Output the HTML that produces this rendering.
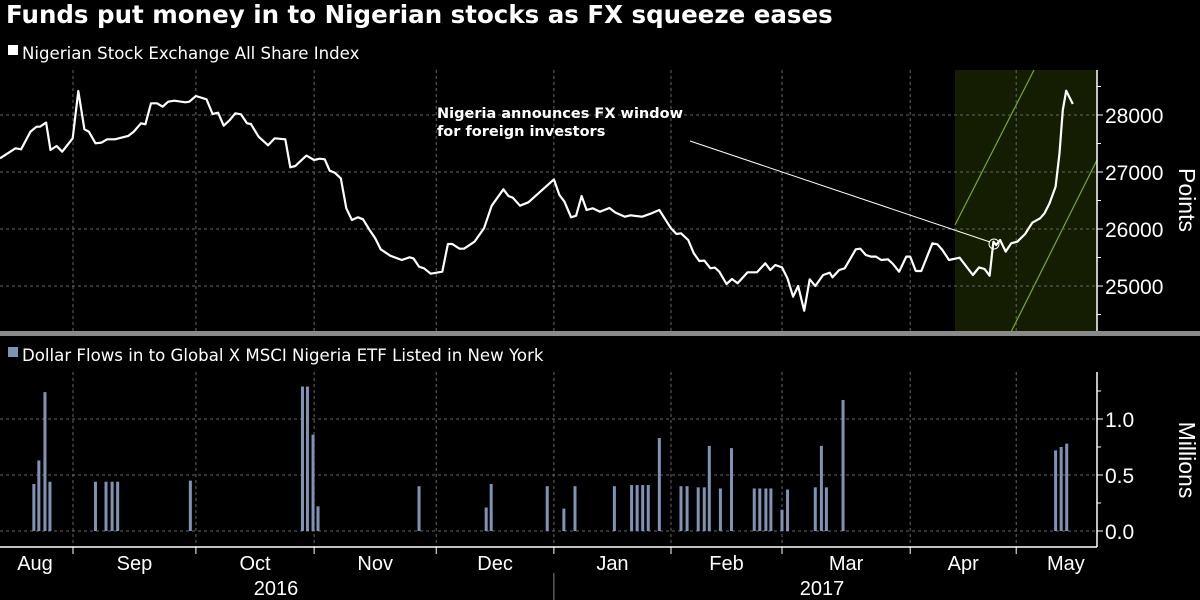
<!DOCTYPE html>
<html><head><meta charset="utf-8">
<style>
html,body{margin:0;padding:0;background:#000;}
svg{display:block;font-family:"Liberation Sans","DejaVu Sans",sans-serif;}
</style></head>
<body>
<svg id="chart" width="1200" height="600" viewBox="0 0 1200 600">
<rect width="1200" height="600" fill="#000"/>
<text x="6" y="23" fill="#fff" font-size="24.5" font-weight="bold" font-family="DejaVu Sans, sans-serif">Funds put money in to Nigerian stocks as FX squeeze eases</text>
<rect x="8" y="45" width="10" height="10" fill="#fff"/>
<text x="22" y="59" fill="#fff" font-size="16.6" font-family="DejaVu Sans, sans-serif">Nigerian Stock Exchange All Share Index</text>
<rect x="8" y="347" width="10" height="10" fill="#7f93b5"/>
<text x="22" y="361" fill="#fff" font-size="16.6" font-family="DejaVu Sans, sans-serif">Dollar Flows in to Global X MSCI Nigeria ETF Listed in New York</text>
<rect x="0" y="331" width="1200" height="5" fill="#8a8a8a"/>
<g id="top"></g>
<g id="bot"></g>
<g id="xax"></g>
<text transform="translate(1179,200) rotate(90)" text-anchor="middle" fill="#fff" font-size="23">Points</text>
<text transform="translate(1179,460) rotate(90)" text-anchor="middle" fill="#fff" font-size="23">Millions</text>
</svg>
<script>
// Trading-day index from start (~mid Aug 2016) and index values
const lineDays=[0,2.8,3.8,5.5,6.6,7.2,8.3,9.1,10.2,11.2,13.1,14.1,15.2,16.0,17.2,18.3,19.3,20.7,23.1,24.1,25.4,26.2,27.2,28.3,29.3,30.3,31.4,33.4,34.1,35.3,37.2,38.3,39.3,40.3,41.4,42.4,43.4,44.5,45.2,46.6,48.3,49.5,51.4,52.3,53.2,55.2,56.6,57.6,58.5,59.4,60.3,61.4,62.4,63.4,64.5,65.4,66.6,67.6,68.6,70.3,72.4,73.8,74.5,75.5,76.4,77.6,79.7,80.7,81.5,82.8,83.6,85.5,87.2,88.6,90.7,91.6,92.4,93.7,95.2,99.8,100.8,101.7,102.9,103.8,104.8,105.7,106.8,108.1,109.8,110.9,112.6,113.6,115.7,117.4,118.8,120.9,121.9,122.7,124.0,125.0,126.0,126.9,128.0,128.8,129.6,130.9,131.9,132.9,134.7,136.4,137.9,138.8,139.7,140.9,141.9,142.9,143.8,144.9,145.9,146.9,148.3,149.5,150.0,151.2,152.2,154.2,155.0,156.0,156.9,157.8,158.8,160.0,160.9,162.0,163.3,164.0,165.0,166.0,168.0,168.9,169.8,171.0,172.9,175.3,176.4,177.4,178.3,179.0,179.5,180.2,181.2,182.2,183.3,184.7,186.0,187.4,188.2,189.1,190.2,190.9,191.5,192.1,193.3];
const lineVals=[27240,27415,27398,27708,27795,27795,27866,27386,27456,27357,27591,28421,27749,27708,27503,27515,27573,27573,27632,27708,27854,27836,28205,28205,28146,28234,28251,28222,28234,28333,28275,28018,28041,27813,27912,28029,28012,27854,27842,27620,27468,27591,27573,27082,27105,27287,27211,27234,27222,27023,26988,26889,26363,26158,26205,26170,25983,25836,25643,25532,25456,25503,25485,25339,25310,25216,25251,25737,25737,25655,25655,25778,26012,26409,26696,26579,26550,26409,26468,26871,26597,26480,26205,26234,26579,26333,26363,26304,26368,26287,26216,26240,26216,26275,26333,26012,25912,25924,25807,25573,25439,25445,25310,25322,25251,25035,25123,25047,25240,25240,25398,25281,25368,25327,25134,24813,25000,24567,25117,25000,25193,25234,25152,25281,25310,25643,25655,25544,25515,25515,25456,25468,25386,25251,25515,25515,25263,25263,25749,25731,25632,25456,25497,25193,25327,25298,25181,25778,25719,25807,25603,25749,25778,25912,26111,26187,26275,26450,26743,27328,28088,28427,28193];
const barDays=[6.1,7.0,8.1,9.0,17.2,19.1,20.2,21.2,34.3,54.5,55.4,56.4,57.3,75.5,87.6,88.5,98.6,101.6,103.6,110.7,113.8,114.8,115.8,116.8,118.8,122.7,123.8,125.8,126.9,127.8,129.8,131.8,135.9,136.9,138.0,138.9,140.9,141.9,146.9,148.0,148.9,151.9,190.2,191.2,192.2];
const barVals=[0.42,0.63,1.24,0.44,0.44,0.44,0.44,0.44,0.45,1.29,1.29,0.86,0.22,0.40,0.21,0.42,0.40,0.20,0.40,0.40,0.41,0.41,0.41,0.41,0.83,0.40,0.40,0.39,0.39,0.76,0.38,0.74,0.38,0.38,0.38,0.38,0.19,0.37,0.39,0.76,0.39,1.17,0.72,0.75,0.78];
const topTicks=[25000,26000,27000,28000];
const botTicks=[0,0.5,1.0];
const monthBounds=[13.15,35.3,56.6,78.6,99.8,120.9,140.9,164.0,183.1];
const monthNames=["Aug","Sep","Oct","Nov","Dec","Jan","Feb","Mar","Apr","May"];
const years=["2016","2017"];
const eventDay=179.1, eventVal=25737;

const NS="http://www.w3.org/2000/svg";
const X=d=>d*5.55;
const YT=v=>115+(28000-v)*0.057;
const YB=v=>531-v*112;
const AX=1097;
function mk(tag,attrs,parent){const e=document.createElementNS(NS,tag);for(const k in attrs)e.setAttribute(k,attrs[k]);parent.appendChild(e);return e;}
const topG=document.getElementById('top'),botG=document.getElementById('bot'),xaxG=document.getElementById('xax');

let band=mk('rect',{x:955,y:70,width:AX-955,height:261,fill:'#141d02'},topG);


let gl1=mk('line',{x1:955,y1:225,x2:1034,y2:70,stroke:'#78a82a','stroke-width':1.2},topG);


let gl2=mk('line',{x1:1011,y1:332,x2:AX,y2:160,stroke:'#78a82a','stroke-width':1.2},topG);



topTicks.forEach(v=>{
  let g=mk('line',{x1:0,x2:AX,y1:YT(v),y2:YT(v),stroke:'#666','stroke-dasharray':'3,3','stroke-width':1},topG);
  
  
  let t=mk('text',{x:AX+8,y:YT(v)+8,fill:'#fff','font-size':21},topG);
  
  
  t.textContent=v;
  let tk=mk('line',{x1:AX,x2:AX+6,y1:YT(v),y2:YT(v),stroke:'#fff'},topG);
  
  
});
[24500,25500,26500,27500,28500].forEach(v=>{
  let tk=mk('line',{x1:AX,x2:AX+4,y1:YT(v),y2:YT(v),stroke:'#fff'},topG);
  
  
});
botTicks.forEach(v=>{
  let g=mk('line',{x1:0,x2:AX,y1:YB(v),y2:YB(v),stroke:'#666','stroke-dasharray':'3,3','stroke-width':1},botG);
  
  
  let t=mk('text',{x:AX+8,y:YB(v)+8,fill:'#fff','font-size':21},botG);
  
  
  t.textContent=v.toFixed(1);
  let tk=mk('line',{x1:AX,x2:AX+6,y1:YB(v),y2:YB(v),stroke:'#fff'},botG);
  
  
});
[0.25,0.75,1.25].forEach(v=>{
  let tk=mk('line',{x1:AX,x2:AX+4,y1:YB(v),y2:YB(v),stroke:'#fff'},botG);
  
  
});
monthBounds.forEach(d=>{
  let g=mk('line',{x1:X(d),x2:X(d),y1:70,y2:331,stroke:'#666','stroke-dasharray':'3,3'},topG);
  
  
  let g2=mk('line',{x1:X(d),x2:X(d),y1:372,y2:547,stroke:'#666','stroke-dasharray':'3,3'},botG);
  
  
  let tk=mk('line',{x1:X(d),x2:X(d),y1:547,y2:554,stroke:'#fff'},xaxG);
  
  
});
let ya=mk('line',{x1:AX,x2:AX,y1:70,y2:331,stroke:'#fff','stroke-width':1.5},topG);


let yb=mk('line',{x1:AX,x2:AX,y1:372,y2:547,stroke:'#fff','stroke-width':1.5},botG);


let xa=mk('line',{x1:0,x2:AX,y1:547,y2:547,stroke:'#fff','stroke-width':1.5},xaxG);



const bounds=[-6].concat(monthBounds).concat([201]);
monthNames.forEach((m,i)=>{
  let cx=(X(bounds[i])+X(bounds[i+1]))/2;
  if(i===0) cx=35;
  let t=mk('text',{x:cx,y:570,fill:'#fff','font-size':20,'text-anchor':'middle'},xaxG);
  
  
  t.textContent=m;
});
let y1=mk('text',{x:276,y:595,fill:'#fff','font-size':20,'text-anchor':'middle'},xaxG);


y1.textContent=years[0];
let y2=mk('text',{x:822,y:595,fill:'#fff','font-size':20,'text-anchor':'middle'},xaxG);


y2.textContent=years[1];
let ys=mk('line',{x1:X(monthBounds[4]),x2:X(monthBounds[4]),y1:573,y2:600,stroke:'#888'},xaxG);



barDays.forEach((d,i)=>{
  let r=mk('rect',{x:X(d)-1.5,y:YB(barVals[i]),width:3,height:YB(0)-YB(barVals[i]),fill:'#7f93b5'},botG);
  
  
});

let p=lineDays.map((d,i)=>(i?'L':'M')+X(d).toFixed(1)+','+YT(lineVals[i]).toFixed(1)).join('');
let ln=mk('path',{d:p,fill:'none',stroke:'#fff','stroke-width':2.2,'stroke-linejoin':'round'},topG);



let ex=X(eventDay),ey=YT(eventVal);
let al=mk('line',{x1:690,y1:141,x2:ex-4,y2:ey-2,stroke:'#fff','stroke-width':1},topG);


let ac=mk('circle',{cx:ex,cy:ey,r:5,fill:'none',stroke:'#fff','stroke-width':1},topG);


let at=mk('text',{x:437,y:118,fill:'#fff','font-size':14.5,'font-weight':'bold','font-family':'DejaVu Sans, sans-serif'},topG);


let s1=mk('tspan',{x:437,dy:0},at);s1.textContent='Nigeria announces FX window';
let s2=mk('tspan',{x:437,dy:18},at);s2.textContent='for foreign investors';
</script>
</body></html>
